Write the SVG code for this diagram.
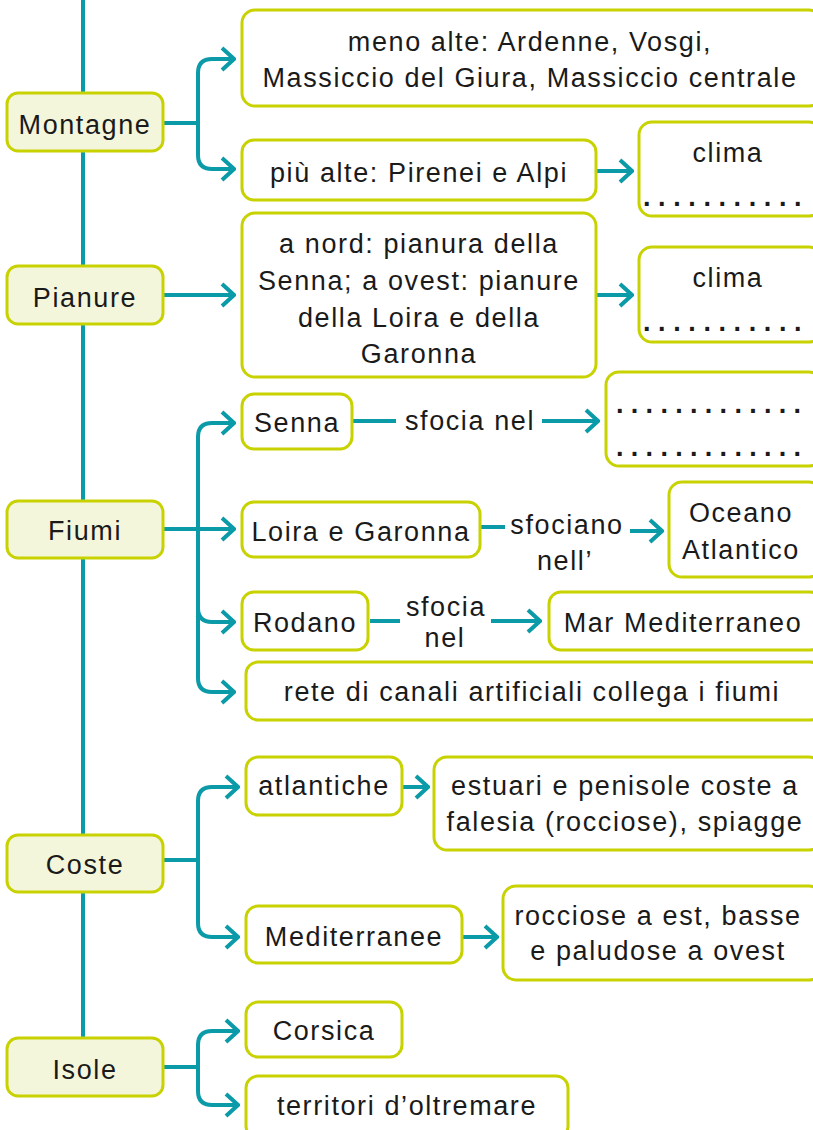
<svg xmlns="http://www.w3.org/2000/svg" width="813" height="1130" viewBox="0 0 813 1130">
<defs>
<marker id="ah" markerUnits="userSpaceOnUse" viewBox="0 0 16 26" refX="14" refY="13" markerWidth="16" markerHeight="26" orient="auto">
<path d="M2,2 L14,13 L2,24" fill="none" stroke="#0a9aa8" stroke-width="4" stroke-linejoin="miter"/>
</marker>
<style>
text{font-family:"Liberation Sans",Arial,sans-serif;font-size:27px;fill:#1a1a1a;text-anchor:middle;letter-spacing:1.6px}
.main rect{fill:#f4f6dc;stroke:#c8d200;stroke-width:3}
.box rect{fill:#ffffff;stroke:#c8d200;stroke-width:3}
.c path{fill:none;stroke:#0a9aa8;stroke-width:4}
.c .a{marker-end:url(#ah)}
text.dots{text-anchor:start;letter-spacing:7.6px;font-weight:bold}
text.dots2{text-anchor:start;letter-spacing:7.3px;font-weight:bold}
</style>
</defs>
<rect width="813" height="1130" fill="#ffffff"/>
<g class="c" id="connectors">
<path d="M83,0 V1040"/>
<path d="M163,123 H198"/>
<path class="a" d="M198,123 V73 Q198,59 212,59 H234"/>
<path class="a" d="M198,123 V155 Q198,169 212,169 H234"/>
<path class="a" d="M597,171 H632"/>
<path class="a" d="M163,295 H234"/>
<path class="a" d="M597,295 H632"/>
<path d="M163,529 H198"/>
<path class="a" d="M198,529 V437 Q198,423 212,423 H234"/>
<path class="a" d="M198,529 H234"/>
<path class="a" d="M198,529 V608 Q198,622 212,622 H234"/>
<path d="M198,529 V678 Q198,692 212,692 H234"/>
<path class="a" d="M212,692 H234"/>
<path d="M352,421 H396"/>
<path class="a" d="M542,421 H598"/>
<path d="M481,527 H505"/>
<path class="a" d="M630,531 H662"/>
<path d="M370,621 H400"/>
<path class="a" d="M491,621 H540"/>
<path d="M163,860 H198"/>
<path class="a" d="M198,860 V801 Q198,787 212,787 H238"/>
<path class="a" d="M198,860 V923 Q198,937 212,937 H238"/>
<path class="a" d="M403,787 H428"/>
<path class="a" d="M463,937 H497"/>
<path d="M163,1067 H198"/>
<path class="a" d="M198,1067 V1045 Q198,1031 212,1031 H238"/>
<path class="a" d="M198,1067 V1091 Q198,1105 212,1105 H238"/>
</g>
<g class="main" id="montagne"><rect x="7" y="93" width="156" height="58" rx="11"/><text x="85" y="134">Montagne</text></g>
<g class="main" id="pianure"><rect x="7" y="266" width="156" height="58" rx="11"/><text x="85" y="307">Pianure</text></g>
<g class="main" id="fiumi"><rect x="7" y="501" width="156" height="57" rx="11"/><text x="85" y="540">Fiumi</text></g>
<g class="main" id="coste"><rect x="7" y="835" width="156" height="57" rx="11"/><text x="85" y="874">Coste</text></g>
<g class="main" id="isole"><rect x="7" y="1038" width="156" height="58" rx="11"/><text x="85" y="1079">Isole</text></g>
<g class="box" id="meno-alte"><rect x="242" y="10" width="580" height="96" rx="13"/><text x="530" y="51">meno alte: Ardenne, Vosgi,</text><text x="530" y="87">Massiccio del Giura, Massiccio centrale</text></g>
<g class="box" id="piu-alte"><rect x="242" y="140" width="354" height="60" rx="12"/><text x="419" y="182">più alte: Pirenei e Alpi</text></g>
<g class="box" id="clima1"><rect x="639" y="122" width="183" height="94" rx="13"/><text x="728" y="162">clima</text><text class="dots" x="643" y="206">...........</text></g>
<g class="box" id="pianure-desc"><rect x="242" y="213" width="354" height="164" rx="13"/><text x="419" y="253">a nord: pianura della</text><text x="419" y="290">Senna; a ovest: pianure</text><text x="419" y="327">della Loira e della</text><text x="419" y="363">Garonna</text></g>
<g class="box" id="clima2"><rect x="639" y="247" width="183" height="95" rx="13"/><text x="728" y="287">clima</text><text class="dots" x="643" y="331">...........</text></g>
<g class="box" id="senna"><rect x="242" y="394" width="110" height="55" rx="12"/><text x="297" y="432">Senna</text></g>
<text id="lbl-senna" x="470" y="430">sfocia nel</text>
<g class="box" id="senna-dest"><rect x="606" y="372" width="216" height="94" rx="13"/><text class="dots2" x="616" y="413">.............</text><text class="dots2" x="616" y="456">.............</text></g>
<g class="box" id="loira"><rect x="242" y="502" width="238" height="55" rx="12"/><text x="361" y="541">Loira e Garonna</text></g>
<text id="lbl-loira" x="567" y="534">sfociano</text>
<text x="565" y="570">nell’</text>
<g class="box" id="oceano"><rect x="669" y="482" width="153" height="95" rx="13"/><text x="741" y="522">Oceano</text><text x="741" y="559">Atlantico</text></g>
<g class="box" id="rodano"><rect x="242" y="592" width="126" height="58" rx="12"/><text x="305" y="632">Rodano</text></g>
<text id="lbl-rodano" x="446" y="616">sfocia</text>
<text x="445" y="647">nel</text>
<g class="box" id="mar-med"><rect x="549" y="592" width="273" height="58" rx="12"/><text x="683" y="632">Mar Mediterraneo</text></g>
<g class="box" id="rete"><rect x="246" y="662" width="576" height="58" rx="12"/><text x="532" y="701">rete di canali artificiali collega i fiumi</text></g>
<g class="box" id="atlantiche"><rect x="246" y="757" width="156" height="58" rx="12"/><text x="324" y="795">atlantiche</text></g>
<g class="box" id="estuari"><rect x="434" y="757" width="388" height="93" rx="13"/><text x="625" y="795">estuari e penisole coste a</text><text x="625" y="831">falesia (rocciose), spiagge</text></g>
<g class="box" id="mediterranee"><rect x="246" y="906" width="216" height="57" rx="12"/><text x="354" y="946">Mediterranee</text></g>
<g class="box" id="rocciose"><rect x="503" y="886" width="319" height="94" rx="13"/><text x="658" y="925">rocciose a est, basse</text><text x="658" y="960">e paludose a ovest</text></g>
<g class="box" id="corsica"><rect x="246" y="1002" width="156" height="55" rx="12"/><text x="324" y="1040">Corsica</text></g>
<g class="box" id="territori"><rect x="246" y="1076" width="322" height="62" rx="12"/><text x="407" y="1115">territori d’oltremare</text></g>
</svg>
